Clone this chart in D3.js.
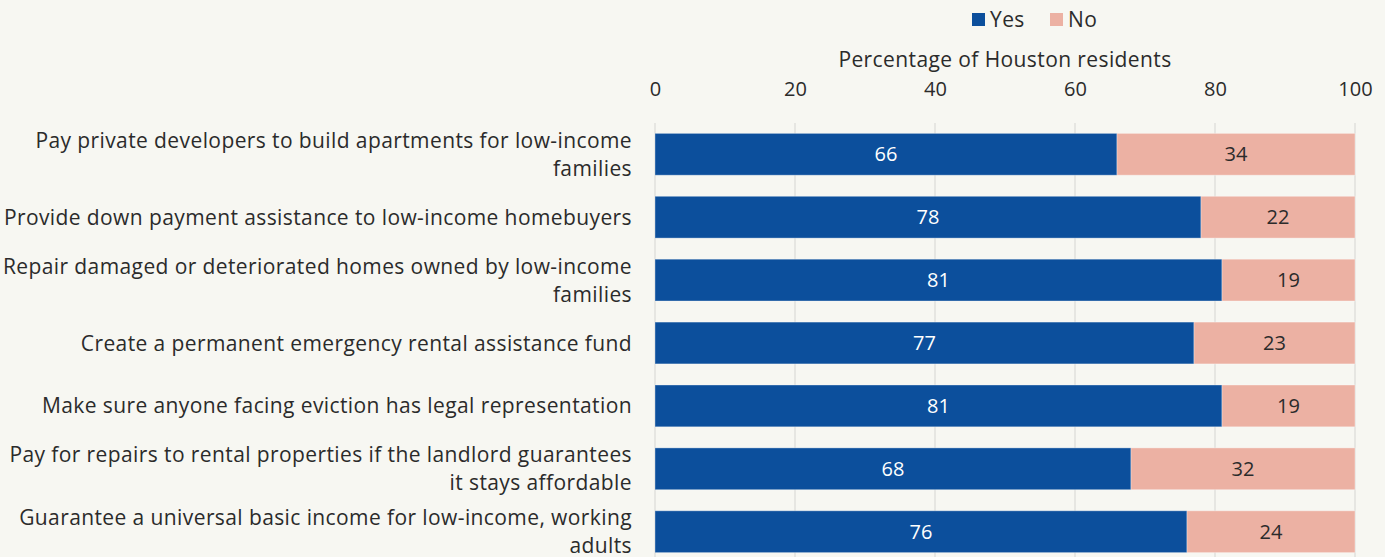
<!DOCTYPE html>
<html>
<head>
<meta charset="utf-8">
<script src="https://cdn.jsdelivr.net/npm/d3@7"></script>
<style>
  html, body { margin: 0; padding: 0; background: #f7f7f2; }
  svg { display: block; font-family: "Open Sans", "Noto Sans", sans-serif; }
</style>
</head>
<body>
<svg id="chart" width="1385" height="557"></svg>
<script>
// Housing policy support among Houston residents (percent)
const categories = [
  "Pay private developers to build apartments for low-income families",
  "Provide down payment assistance to low-income homebuyers",
  "Repair damaged or deteriorated homes owned by low-income families",
  "Create a permanent emergency rental assistance fund",
  "Make sure anyone facing eviction has legal representation",
  "Pay for repairs to rental properties if the landlord guarantees it stays affordable",
  "Guarantee a universal basic income for low-income, working adults"
];
const yesValues = [66, 78, 81, 77, 81, 68, 76];
const noValues  = [34, 22, 19, 23, 19, 32, 24];
const seriesNames = ["Yes", "No"];
const tickValues = [0, 20, 40, 60, 80, 100];
const axisTitle = "Percentage of Houston residents";

const colors = { Yes: "#0c4f9c", No: "#ecb1a3" };
const textColor = "#2b2b2b";
const fontSize = 21;
const spacing = "0.4px";

const svg = d3.select("#chart");
const margin = { left: 655, right: 30, top: 123, bottom: -6 };
const W = 1385, H = 557;

const x = d3.scaleLinear().domain([0, 100]).range([margin.left, W - margin.right]);
const y = d3.scaleBand().domain(categories)
  .range([margin.top, H - margin.bottom]).paddingInner(0.335).paddingOuter(0.165);

// vertical gridlines
svg.append("g").selectAll("line").data(tickValues).join("line")
  .attr("x1", d => x(d)).attr("x2", d => x(d))
  .attr("y1", margin.top).attr("y2", H)
  .attr("stroke", "#e6e6e2").attr("stroke-width", 2);

// top axis with tick labels only
const axis = svg.append("g")
  .attr("transform", `translate(0,${82})`)
  .call(d3.axisTop(x).tickValues(tickValues).tickSize(0).tickPadding(0));
axis.select(".domain").remove();
axis.selectAll("text")
  .attr("font-size", 20).attr("fill", textColor)
  .attr("font-family", "'Open Sans', sans-serif")
  .attr("dy", "0.72em").attr("y", 0);

svg.append("text")
  .attr("x", (x(0) + x(100)) / 2).attr("y", 67)
  .attr("text-anchor", "middle").attr("font-size", fontSize).attr("fill", textColor)
  .attr("letter-spacing", spacing)
  .text(axisTitle);

// stacked data
const rows = categories.map((c, i) => ({ cat: c, Yes: yesValues[i], No: noValues[i] }));
const stack = d3.stack().keys(seriesNames)(rows);

const layers = svg.append("g").selectAll("g").data(stack).join("g")
  .attr("fill", d => colors[d.key]);

layers.selectAll("rect").data(d => d).join("rect")
  .attr("x", d => x(d[0]))
  .attr("y", d => y(d.data.cat))
  .attr("width", d => x(d[1]) - x(d[0]))
  .attr("height", y.bandwidth())
  .attr("stroke", "rgba(255,255,255,0.35)").attr("stroke-width", 1);

layers.each(function(layer) {
  d3.select(this).selectAll("text").data(layer).join("text")
    .attr("x", d => (x(d[0]) + x(d[1])) / 2)
    .attr("y", d => y(d.data.cat) + y.bandwidth() / 2)
    .attr("dy", "0.36em")
    .attr("text-anchor", "middle")
    .attr("font-size", 20)
    .attr("fill", layer.key === "Yes" ? "#ffffff" : textColor)
    .text(d => d[1] - d[0]);
});

// category labels, wrapped to fit the left column
const labelRight = 632, maxLabelWidth = 632;
const labelG = svg.append("g");
categories.forEach(cat => {
  const t = labelG.append("text")
    .attr("text-anchor", "end").attr("font-size", fontSize).attr("fill", textColor)
    .attr("letter-spacing", spacing);
  const words = cat.split(" ");
  const lines = [];
  let cur = [];
  const probe = t.append("tspan");
  words.forEach(w => {
    const test = cur.concat([w]).join(" ");
    probe.text(test);
    if (probe.node().getComputedTextLength() > maxLabelWidth && cur.length) {
      lines.push(cur.join(" "));
      cur = [w];
    } else cur.push(w);
  });
  lines.push(cur.join(" "));
  probe.remove();
  const cy = y(cat) + y.bandwidth() / 2;
  const lh = 28;
  lines.forEach((ln, i) => {
    t.append("tspan").attr("x", labelRight)
      .attr("y", cy + (i - (lines.length - 1) / 2) * lh)
      .attr("dy", "0.36em").text(ln);
  });
});

// legend
const legend = svg.append("g").attr("transform", "translate(972,19)");
const legendPos = [0, 78];
seriesNames.forEach((s, i) => {
  const g = legend.append("g").attr("transform", `translate(${legendPos[i]},0)`);
  g.append("rect").attr("x", 0).attr("y", -6).attr("width", 13).attr("height", 13)
    .attr("fill", colors[s]);
  g.append("text").attr("x", 18).attr("y", 0).attr("dy", "0.36em")
    .attr("font-size", fontSize).attr("fill", textColor)
    .attr("letter-spacing", spacing).text(s);
});
</script>
</body>
</html>
